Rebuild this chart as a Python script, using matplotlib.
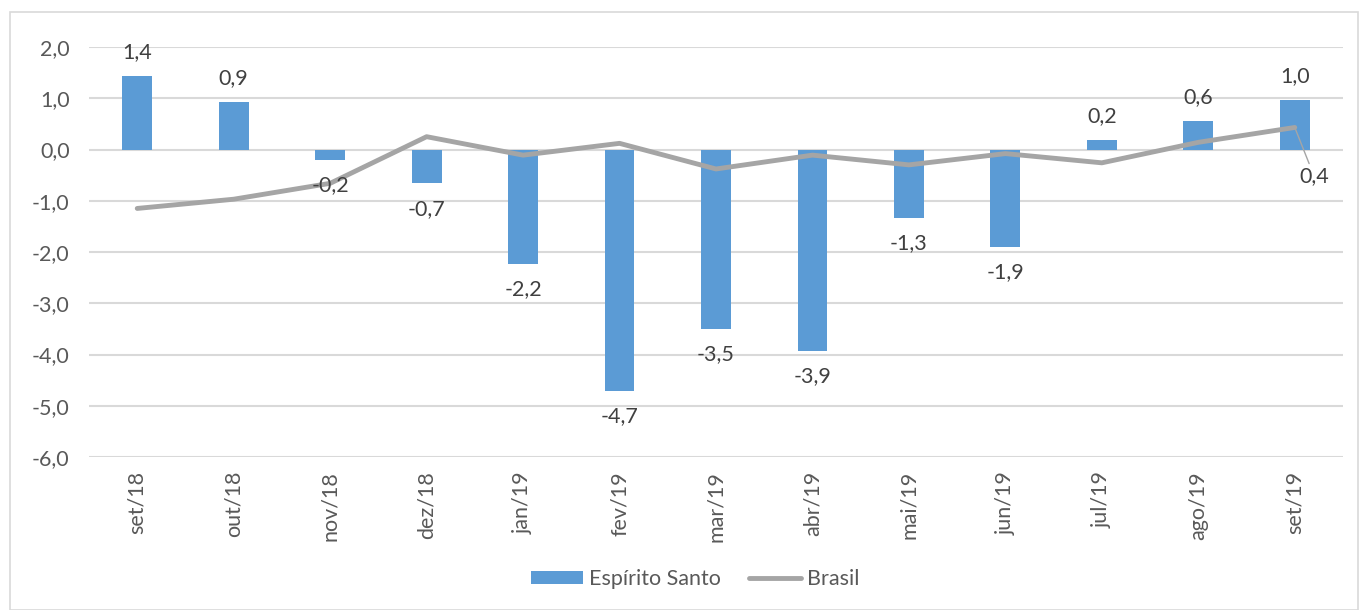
import matplotlib
matplotlib.use("Agg")
import matplotlib.pyplot as plt
from matplotlib.patches import Rectangle
import numpy as np

categories = ["set/18", "out/18", "nov/18", "dez/18", "jan/19", "fev/19", "mar/19",
              "abr/19", "mai/19", "jun/19", "jul/19", "ago/19", "set/19"]
espirito_santo = [1.44, 0.92, -0.20, -0.66, -2.23, -4.71, -3.50, -3.93, -1.34, -1.90, 0.18, 0.56, 0.96]
brasil = [-1.15, -0.97, -0.66, 0.25, -0.11, 0.12, -0.38, -0.11, -0.30, -0.08, -0.26, 0.14, 0.43]
yticks = [2.0, 1.0, 0.0, -1.0, -2.0, -3.0, -4.0, -5.0, -6.0]

plt.rcParams['font.family'] = ['Lato', 'DejaVu Sans']
txt = '#404040'
tickc = '#595959'
fs = 15.5

fig = plt.figure(figsize=(13.59, 6.10), dpi=100)
fig.patches.append(Rectangle((10/1359, 0), 1 - 10/1359 - 0.001, 1 - 12/610, transform=fig.transFigure,
                             fill=False, edgecolor='#d9d9d9', linewidth=1.2))
ax = fig.add_axes([89/1359, 1 - 457/610, (1343 - 89)/1359, (457 - 47)/610])

x = np.arange(len(categories))
bars = ax.bar(x, espirito_santo, width=0.31, color='#5b9bd5', label='Espírito Santo', zorder=2)
line, = ax.plot(x, brasil, color='#a5a5a5', linewidth=3.5, solid_capstyle='round', label='Brasil', zorder=3)

def fmt(v):
    return f"{v:.1f}".replace('.', ',')

for xi, v in zip(x, espirito_santo):
    if v >= 0:
        ax.annotate(fmt(v), (xi, v), xytext=(0, 10), textcoords='offset points',
                    ha='center', va='bottom', fontsize=fs, color=txt)
    else:
        ax.annotate(fmt(v), (xi, v), xytext=(0, -11), textcoords='offset points',
                    ha='center', va='top', fontsize=fs, color=txt)

# Brasil label at last point with leader line
xl, yl = x[-1], brasil[-1]
ax.annotate(fmt(yl), (xl, yl), xytext=(14, -28), textcoords='offset points',
            ha='center', va='top', fontsize=fs, color=txt,
            arrowprops=dict(arrowstyle='-', color='#a5a5a5', lw=1.0, shrinkA=0, shrinkB=0))

ax.set_xlim(-0.5, len(categories) - 0.5)
ax.set_ylim(-6, 2)
ax.set_yticks(yticks)
ax.set_yticklabels([fmt(v) for v in yticks], fontsize=fs, color=tickc)
ax.set_xticks(x)
ax.set_xticklabels(categories, rotation=90, fontsize=fs, color=tickc)
ax.tick_params(length=0)
ax.tick_params(axis='x', pad=10)
ax.tick_params(axis='y', pad=14)
for s in ax.spines.values():
    s.set_visible(False)
ax.yaxis.grid(True, color='#d9d9d9', linewidth=1.5, zorder=0)
ax.set_axisbelow(True)

leg = fig.legend([bars, line], ['Espírito Santo', 'Brasil'], loc='center',
                 bbox_to_anchor=(695.5/1359, 1 - 579/610), ncol=2, frameon=False,
                 fontsize=fs, handlelength=2.4, handleheight=0.6, columnspacing=1.3, handletextpad=0.3,
                 borderpad=0, borderaxespad=0)
for t in leg.get_texts():
    t.set_color(tickc)

fig.savefig('out.png', dpi=100)
